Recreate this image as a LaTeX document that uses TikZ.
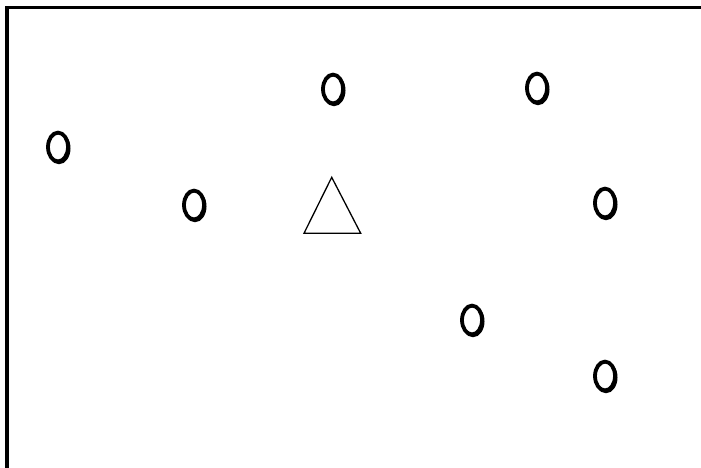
\documentclass[tikz,border=0pt]{standalone}
\begin{document}
\begin{tikzpicture}[x=1pt,y=-1pt,
  frameline/.style={line width=3.5pt,line cap=butt},
  tri/.style={draw=black,line width=1.3pt,line join=miter}]
\useasboundingbox (0,0) rectangle (701,467);
\fill[white] (0,0) rectangle (701,467);
\coordinate (fb) at (7,470);
\coordinate (fc) at (7,7.5);
\coordinate (fr) at (704,7.5);
\draw[frameline] (fb) -- (fc) -- (fr);
\foreach \n/\x/\y in {a/58/147, b/194/205, c/333/89, d/537/88, e/605/203, f/472/320, g/605/376}{
  \draw[line width=3.8pt] (\x,\y) ellipse [x radius=10pt, y radius=14.4pt];
  \draw[line width=1.8pt,black] (\x+1,\y+1.3) ellipse [x radius=10.6pt, y radius=15pt];
  \coordinate (\n) at (\x,\y);
}
\coordinate (t1) at (331.7,177.3);
\coordinate (t2) at (304,233.3);
\coordinate (t3) at (360.7,233.3);
\draw[tri] (t1) -- (t2) -- (t3) -- cycle;
\end{tikzpicture}
\end{document}
